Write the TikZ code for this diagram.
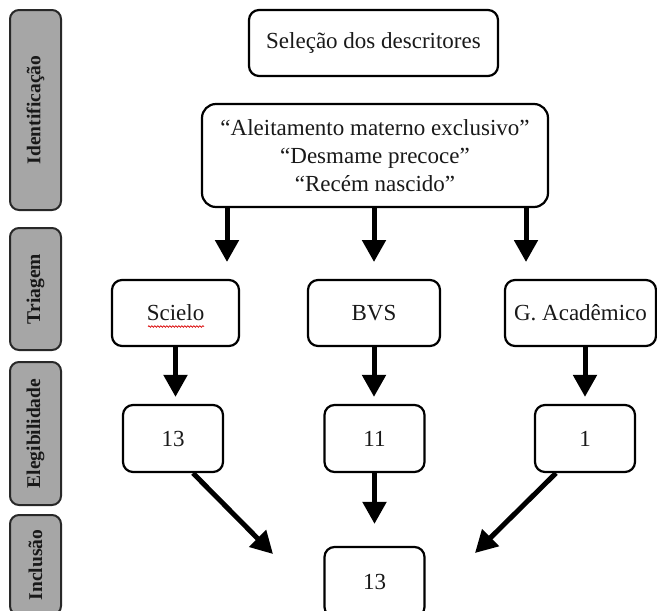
\documentclass[tikz,border=0pt]{standalone}
\usepackage{fontspec}
\setmainfont{Liberation Serif}
\usetikzlibrary{arrows.meta,decorations.pathmorphing}
\definecolor{labgray}{RGB}{166,166,166}
\definecolor{labline}{RGB}{40,40,40}
\begin{document}
\begin{tikzpicture}[x=1pt,y=-1pt,
  box/.style={draw=black, line width=2.2pt, rounded corners=10pt, inner sep=0pt,
    fill=white, font=\fontsize{23}{28}\selectfont, text=black!90},
  lab/.style={draw=labline, fill=labgray, line width=2pt, rounded corners=9pt,
    inner sep=0pt, minimum height=51pt, rotate=90,
    font=\bfseries\fontsize{19.5}{22}\selectfont, text=black!90},
  arr/.style={line width=5pt, -{Triangle[width=23pt,length=22pt]}}]
\useasboundingbox (0,0) rectangle (657,611);

% left stage labels
\node[lab, minimum width=200pt] (l1) at (35.5,110) {Identificação};
\node[lab, minimum width=122pt] (l2) at (35.5,289) {Triagem};
\node[lab, minimum width=143pt] (l3) at (35.5,433.5) {Elegibilidade};
\node[lab, minimum width=100pt] (l4) at (35.5,565) {Inclusão};

% top boxes
\node[box, minimum width=249pt, minimum height=66pt] (sel) at (373.5,43) {Seleção dos descritores};
\node[box, rounded corners=14pt, minimum width=346pt, minimum height=103pt, align=center]
  (desc) at (375,155.5) {“Aleitamento materno exclusivo”\\“Desmame precoce”\\“Recém nascido”};

% databases
\node[box, minimum width=127pt, minimum height=66pt] (sc) at (175.5,313) {Scielo};
\node[box, minimum width=132pt, minimum height=66pt] (bvs) at (374,313) {BVS};
\node[box, minimum width=151pt, minimum height=66pt] (ga) at (580.5,313) {G. Acadêmico};

% counts
\node[box, minimum width=100pt, minimum height=67pt] (e1) at (173,438.5) {13};
\node[box, minimum width=100pt, minimum height=67pt] (e2) at (374.5,438.5) {11};
\node[box, minimum width=100pt, minimum height=67pt] (e3) at (585,438.5) {1};
\node[box, minimum width=100pt, minimum height=70pt] (fin) at (374.5,582) {13};

% spell-check squiggle under Scielo
\draw[red!85!black, line width=0.7pt, decorate,
  decoration={snake, amplitude=0.8pt, segment length=3pt}] (148,326.5) -- (204,326.5);

% arrows from the descriptor box
\coordinate (t1) at (227,262);
\coordinate (t2) at (374,262);
\coordinate (t3) at (526,262);
\draw[arr] (desc.south -| t1) -- (t1);
\draw[arr] (desc.south -| t2) -- (t2);
\draw[arr] (desc.south -| t3) -- (t3);

% database to count arrows
\draw[arr, shorten >=7pt] (sc.south) -- (sc.south |- e1.north);
\draw[arr, shorten >=7pt] (bvs.south) -- (bvs.south |- e2.north);
\draw[arr, shorten >=7pt] (e3.north |- ga.south) -- (e3.north);

% to inclusion
\coordinate (dl) at (273,554);
\coordinate (dr) at (475,553);
\draw[arr] (e1.-60) -- (dl);
\draw[arr, shorten >=22pt] (e2.south) -- (e2.south |- fin.north);
\draw[arr] (e3.-130) -- (dr);
\end{tikzpicture}
\end{document}
